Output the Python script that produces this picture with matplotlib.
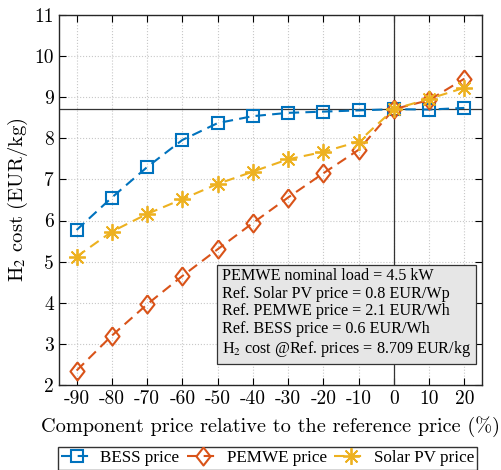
import numpy as np
import matplotlib.pyplot as plt

# data
price_change = [-90, -80, -70, -60, -50, -40, -30, -20, -10, 0, 10, 20]
bess_cost = [5.77, 6.56, 7.30, 7.96, 8.37, 8.54, 8.62, 8.65, 8.68, 8.709, 8.70, 8.74]
pemwe_cost = [2.35, 3.20, 3.96, 4.65, 5.30, 5.94, 6.56, 7.15, 7.72, 8.709, 8.93, 9.45]
solar_cost = [5.12, 5.73, 6.16, 6.52, 6.89, 7.19, 7.49, 7.67, 7.92, 8.709, 8.96, 9.23]
ref_cost = 8.709

info_lines = [
    "PEMWE nominal load = 4.5 kW",
    "Ref. Solar PV price = 0.8 EUR/Wp",
    "Ref. PEMWE price = 2.1 EUR/Wh",
    "Ref. BESS price = 0.6 EUR/Wh",
    "H$_2$ cost @Ref. prices = 8.709 EUR/kg",
]

plt.rcParams['mathtext.fontset'] = 'stix'
plt.rcParams['axes.unicode_minus'] = False

fig = plt.figure(figsize=(5.02, 4.70), dpi=100)
ax = fig.add_axes([0.1175, 0.181, 0.8425, 0.787])

blue, orange, yellow = '#0072BD', '#D95319', '#EDB120'
diamond = [(0, 1), (0.78, 0), (0, -1), (-0.78, 0), (0, 1)]

ax.axhline(ref_cost, color='#333333', lw=0.9, zorder=1)
ax.axvline(0, color='#333333', lw=0.9, zorder=1)

ax.plot(price_change, bess_cost, ls=(0, (5, 3)), color=blue, lw=1.5, marker='s', ms=9,
        mfc='none', mew=1.5, label='BESS price', zorder=3)
ax.plot(price_change, pemwe_cost, ls=(0, (5, 3)), color=orange, lw=1.5, marker=diamond, ms=13,
        mfc='none', mew=1.5, label='PEMWE price', zorder=3)
ax.plot(price_change, solar_cost, ls=(0, (5, 3)), color=yellow, lw=1.5, marker=(8, 2, 0), ms=12,
        mew=1.3, label='Solar PV price', zorder=3)

ax.set_xlim(-95, 25)
ax.set_ylim(2, 11)
ax.set_xticks(np.arange(-90, 21, 10))
ax.set_yticks(np.arange(2, 12, 1))
ax.grid(True, ls=':', color='#c8c8c8', lw=0.8)
ax.set_axisbelow(True)
ax.tick_params(direction='in', top=True, right=True, length=5, width=0.8, labelsize=14)
for lab in ax.get_xticklabels() + ax.get_yticklabels():
    lab.set_family('cmr10')
for s in ax.spines.values():
    s.set_color('#262626')
    s.set_linewidth(1.0)

ax.set_xlabel("Component price relative to the reference price (%)", family='cmr10',
              fontsize=14.6, labelpad=6)
ax.set_ylabel(r"H$_2$ cost (EUR/kg)", family='cmr10', fontsize=14.8, labelpad=3)

ax.text(-48.8, 4.85, "\n".join(info_lines), family='Liberation Serif', fontsize=11.6,
        va='top', ha='left', linespacing=1.15,
        bbox=dict(boxstyle='square,pad=0.3', fc='#e6e6e6', ec='#333333', lw=0.9))

leg = fig.legend(loc='upper center', bbox_to_anchor=(0.533, 0.049), ncol=3, frameon=True,
                 fancybox=False, edgecolor='black',
                 prop={'family': 'Liberation Serif', 'size': 12.3},
                 handlelength=1.9, handletextpad=0.4, columnspacing=0.45, borderpad=0.2,
                 borderaxespad=0.0)

fig.savefig('out.png', dpi=100)
